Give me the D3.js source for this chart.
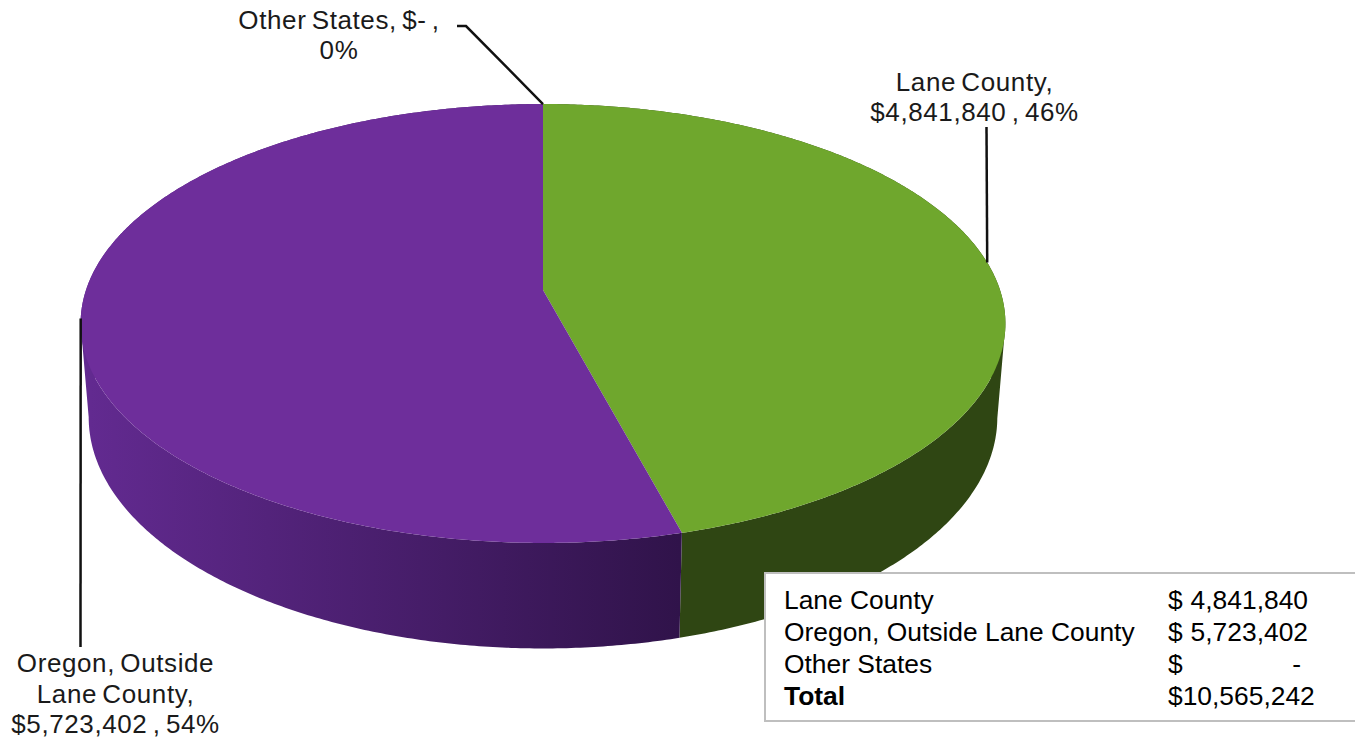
<!DOCTYPE html>
<html>
<head>
<meta charset="utf-8">
<script src="https://cdn.jsdelivr.net/npm/d3@7"></script>
<style>
  html, body { margin: 0; padding: 0; background: #fff; }
  svg { display: block; }
  text { font-family: "Liberation Sans", Arial, sans-serif; fill: #1a1a1a; }
</style>
</head>
<body>
<svg id="chart" width="1355" height="741"></svg>
<script>
const categories = ["Lane County", "Oregon, Outside Lane County", "Other States"];
const values = [4841840, 5723402, 0];
const totalLabel = "Total";
const topColors = ["#6fa72d", "#6e2e9b", "#6e2e9b"];
const wallStops = [
  ["#2f4613", "#2f4613"],
  ["#622a90", "#30134a"],
  ["#622a90", "#30134a"]
];

const total = d3.sum(values);
const money = d3.format(",");
const percent = v => Math.round(v / total * 100) + "%";
const dollars = v => v === 0 ? "$-" : "$" + money(v);

const svg = d3.select("#chart");
const width = 1355;

// Perspective projection of the unit disc onto the top and bottom planes of the drum.
const cx = 543;
const persp = -0.1526;
const topPlane = { d: 457, a: 170.1, b: 290 };
const basePlane = { d: 449, a: 167.5, b: 382 };
const project = (plane, angle) => {
  const ux = Math.sin(angle), uy = -Math.cos(angle);
  const w = 1 + persp * uy;
  return [cx + plane.d * ux / w, (plane.a * uy + plane.b) / w];
};

const arcs = d3.pie().sort(null).value(d => d)(values);
const stepAngle = Math.PI / 360;
const angleSamples = (a0, a1) => {
  const n = Math.max(1, Math.ceil((a1 - a0) / stepAngle));
  return d3.range(n + 1).map(i => a0 + (a1 - a0) * i / n);
};
const line = d3.line();

// Horizontal shading for the side wall of each slice.
const defs = svg.append("defs");
const shadeStart = 90, shadeEnd = 680;
wallStops.forEach((stops, i) => {
  const g = defs.append("linearGradient").attr("id", "wall" + i)
    .attr("gradientUnits", "userSpaceOnUse")
    .attr("x1", shadeStart).attr("x2", shadeEnd).attr("y1", 0).attr("y2", 0);
  g.append("stop").attr("offset", 0).attr("stop-color", stops[0]);
  g.append("stop").attr("offset", 1).attr("stop-color", stops[1]);
});

// Side wall: all the quads of a slice share one path, so no seams show between them.
svg.append("g").selectAll("path").data(arcs.filter(a => a.endAngle > a.startAngle)).join("path")
  .attr("fill", a => `url(#wall${a.index})`)
  .attr("d", a => d3.pairs(angleSamples(a.startAngle, a.endAngle)).map(([a0, a1]) => {
    const quad = project(topPlane, a1)[0] > project(topPlane, a0)[0]
      ? [project(topPlane, a0), project(topPlane, a1), project(basePlane, a1), project(basePlane, a0)]
      : [project(topPlane, a1), project(topPlane, a0), project(basePlane, a0), project(basePlane, a1)];
    return line(quad) + "Z";
  }).join(""));

// Top face of each slice, fanning out from the projected pie centre.
const centre = [cx, topPlane.b];
svg.append("g").selectAll("path").data(arcs.filter(a => a.endAngle > a.startAngle)).join("path")
  .attr("d", a => line([centre, ...angleSamples(a.startAngle, a.endAngle).map(t => project(topPlane, t))]) + "Z")
  .attr("fill", a => topColors[a.index]);

// Leader lines run from each slice's mid-angle on the rim to its label.
const rimAnchor = a => project(topPlane, (a.startAngle + a.endAngle) / 2);
const leaders = [
  [[986.5, 127], rimAnchor(arcs[0])],
  [[80.5, 647], rimAnchor(arcs[1])],
  [[457, 26], [466, 26], rimAnchor(arcs[2])]
];
svg.append("g").selectAll("path").data(leaders).join("path")
  .attr("d", d => line(d))
  .attr("fill", "none").attr("stroke", "#111").attr("stroke-width", 2.5);

// Data labels
const labelLines = [
  [categories[0] + ",", dollars(values[0]) + " , " + percent(values[0])],
  ["Oregon, Outside", "Lane County,", dollars(values[1]) + " , " + percent(values[1])],
  [categories[2] + ", " + dollars(values[2]) + " ,", percent(values[2])]
];
const labelPos = [
  { x: 974.5, y: 90.5 },
  { x: 115.5, y: 672 },
  { x: 339, y: 28.5 }
];
const labels = svg.append("g").attr("font-size", 26).attr("letter-spacing", 0.6).attr("word-spacing", -2.5);
labelLines.forEach((rows, i) => {
  rows.forEach((row, j) => {
    labels.append("text").attr("x", labelPos[i].x).attr("y", labelPos[i].y + j * 30.5)
      .attr("text-anchor", "middle").text(row);
  });
});

// Summary table in the lower right corner
const box = { x: 765, y: 573, h: 148 };
svg.append("rect").attr("x", box.x).attr("y", box.y).attr("width", width - box.x + 10).attr("height", box.h)
  .attr("fill", "#fff").attr("stroke", "#bfbfbf").attr("stroke-width", 2);

const table = svg.append("g").attr("font-size", 26.4);
const rowY = i => 609 + i * 32;
const nameX = 784, dollarX = 1168, figureRight = 1308, dashRight = 1301;
categories.forEach((name, i) => {
  table.append("text").attr("x", nameX).attr("y", rowY(i)).style("fill", "#000").text(name);
  table.append("text").attr("x", dollarX).attr("y", rowY(i)).style("fill", "#000").text("$");
  table.append("text").attr("x", values[i] === 0 ? dashRight : figureRight).attr("y", rowY(i))
    .attr("text-anchor", "end").style("fill", "#000")
    .text(values[i] === 0 ? "-" : money(values[i]));
});
table.append("text").attr("x", nameX).attr("y", rowY(3)).attr("font-weight", "bold").style("fill", "#000").text(totalLabel);
table.append("text").attr("x", dollarX).attr("y", rowY(3)).style("fill", "#000").text("$" + money(total));
</script>
</body>
</html>
